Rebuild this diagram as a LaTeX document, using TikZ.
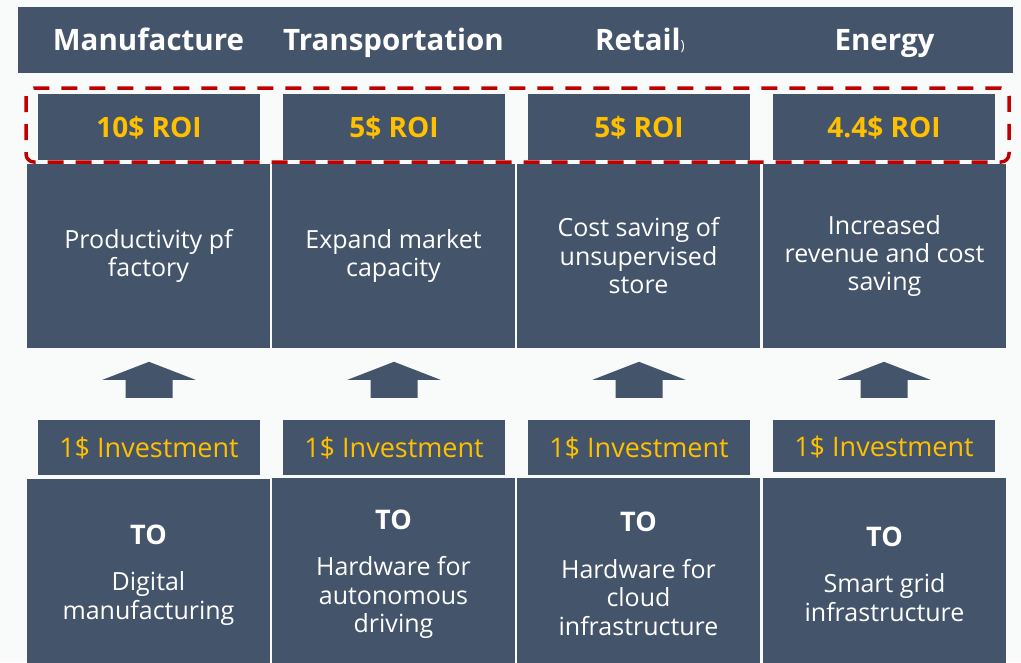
\documentclass[tikz,border=0pt]{standalone}
\usepackage{fontspec}
\setmainfont{Open Sans}
\definecolor{slate}{HTML}{44546A}
\definecolor{gold}{HTML}{FFC000}
\definecolor{dred}{HTML}{C00000}
\definecolor{bgc}{HTML}{F8FBFA}
\begin{document}
\begin{tikzpicture}[x=1pt,y=-1pt,
 panel/.style={fill=slate, draw=none, inner sep=0pt, align=center, text=white},
 hdrtext/.style={text=white, font=\fontsize{29.5}{36}\selectfont\bfseries, inner sep=0pt, anchor=base},
 roibox/.style={panel, minimum width=222pt, minimum height=66pt, text=gold, font=\fontsize{28}{34}\selectfont\bfseries, text height=21pt, text depth=0pt},
 effbox/.style={panel, minimum width=243pt, minimum height=184pt, font=\fontsize{25}{28.5}\selectfont},
 invbox/.style={panel, minimum width=222pt, text=gold, font=\fontsize{27}{32}\selectfont, text height=20pt, text depth=0pt},
 tobox/.style={panel, minimum width=243pt, minimum height=192pt, font=\fontsize{25}{28.5}\selectfont},
 uparrow/.style={fill=slate},
 roiframe/.style={draw=dred, line width=3.5pt, dash pattern=on 16pt off 12pt, rounded corners=8pt}
]
\useasboundingbox (0,0) rectangle (1021,662);
\clip (0,0) rectangle (1021,662);
\fill[bgc] (0,0) rectangle (1021,662);

% header
\node[panel, minimum width=995pt, minimum height=66pt] (hdr) at (515.5,40) {};
\node[hdrtext] (h1) at (148.5,50) {Manufacture};
\node[hdrtext] (h2) at (393.5,50) {Transportation};
\node[hdrtext] (h3) at (640,50) {Retail{\fontsize{14}{14}\selectfont\mdseries)}};
\node[hdrtext] (h4) at (884.5,50) {Energy};

% ROI
\node[roibox] (r1) at (149,127) {10\$ ROI};
\node[roibox] (r2) at (394,127) {5\$ ROI};
\node[roibox] (r3) at (639,127) {5\$ ROI};
\node[roibox] (r4) at (884,127) {4.4\$ ROI};

% effects
\node[effbox] (e1) at (148.5,256) {Productivity pf\\factory};
\node[effbox] (e2) at (393.5,256) {Expand market\\capacity};
\node[effbox] (e3) at (638.5,256) {Cost saving of\\unsupervised\\store};
\node[effbox] (e4) at (884.5,256) {Increased\\revenue and cost\\saving};

% dashed frame
\draw[roiframe] (26,88) rectangle (1009,162);

% investments
\node[invbox, minimum height=55pt] (inv1) at (149,447.5) {1\$ Investment};
\node[invbox, minimum height=55pt] (inv2) at (394,447.5) {1\$ Investment};
\node[invbox, minimum height=55pt] (inv3) at (639,447.5) {1\$ Investment};
\node[invbox, minimum height=52pt] (inv4) at (884,446) {1\$ Investment};

% arrows
\foreach \c in {1,2,3,4} {
  \fill[uparrow] ([yshift=22pt]inv\c.north) ++(-23.5,0) -- ++(0,-18) -- ++(-23,0) -- ++(46.5,-18) -- ++(46.5,18) -- ++(-23,0) -- ++(0,18) -- cycle;
}

% targets
\node[tobox] (t1) at (148.5,575) {{\fontsize{27}{30}\selectfont\bfseries TO}\\[18pt]Digital\\manufacturing};
\node[tobox] (t2) at (393.5,574) {{\fontsize{27}{30}\selectfont\bfseries TO}\\[18pt]Hardware for\\autonomous\\driving};
\node[tobox] (t3) at (638.5,574) {{\fontsize{27}{30}\selectfont\bfseries TO}\\[18pt]Hardware for\\cloud\\infrastructure};
\node[tobox] (t4) at (884.5,574) {{\fontsize{27}{30}\selectfont\bfseries TO}\\[18pt]Smart grid\\infrastructure};
\end{tikzpicture}
\end{document}
